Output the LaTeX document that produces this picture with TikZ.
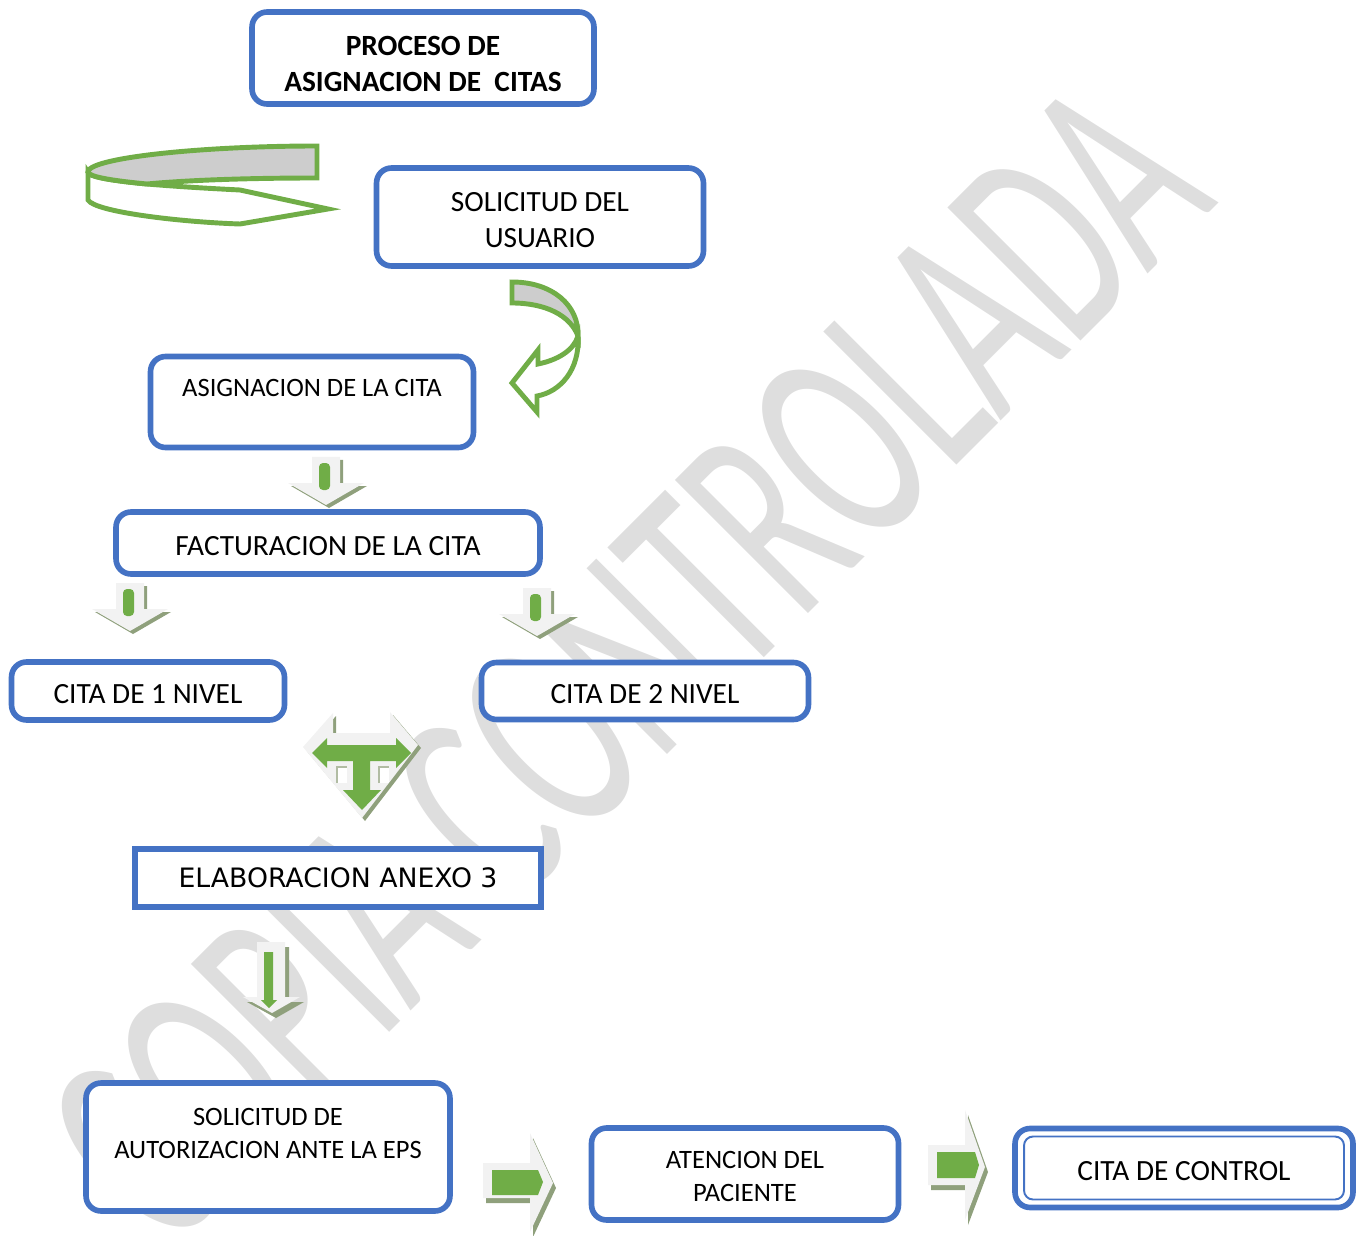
\documentclass[tikz,border=0pt]{standalone}
\usepackage{fontspec}
\setmainfont{Carlito}
\newfontfamily\wideface{DejaVu Sans}
\definecolor{boxblue}{RGB}{68,114,196}
\definecolor{leaf}{RGB}{112,173,71}
\definecolor{pale}{RGB}{242,242,242}
\definecolor{shade}{RGB}{143,160,124}
\definecolor{band}{RGB}{205,205,205}
\definecolor{wmark}{RGB}{222,222,222}
\newcommand{\topstrut}{\rule{0pt}{0.86em}}

\begin{document}
\begin{tikzpicture}[x=0.02cm, y=-0.02cm,
	proc/.style={
		draw=boxblue,
		line width=3.2pt,
		rounded corners=0.3cm,
		fill=white,
		align=center,
		inner sep=0pt,
		outer sep=0pt
	},
	sqbox/.style={proc, rounded corners=0pt},
	big/.style={font=\fontsize{16.7}{20.5}\selectfont},
	small/.style={font=\fontsize{15.1}{18.8}\selectfont},
	paleshape/.style={fill=pale},
	shadeshape/.style={fill=shade},
	greenbar/.style={fill=leaf},
	ribbon/.style={draw=leaf, line width=2.8pt, line join=miter},
	dwn/.pic={
		\fill[shadeshape] (-11,3) -- (17,3) -- (17,29) -- (41,29) -- (3,51) -- (-35,29) -- (-11,29) -- cycle;
		\fill[paleshape] (-14,0) -- (14,0) -- (14,26) -- (38,26) -- (0,48) -- (-38,26) -- (-14,26) -- cycle;
		\fill[greenbar, rounded corners=0.08cm] (-7,6) rectangle (4,33);
	}
	]
	\useasboundingbox (0,0) rectangle (1365,1236);
	
	\node[rotate=45, text=wmark, font=\fontsize{167}{167}\selectfont] (wm) at (627,662)
	{\scalebox{0.6}[1]{COPIA CONTROLADA}};
	
	\node[proc, big, minimum width=6.84cm, minimum height=1.84cm] (title) at (423,58)
	{\rule{0pt}{1.07em}\bfseries PROCESO DE\\\bfseries ASIGNACION DE\ \ CITAS};
	\node[proc, big, minimum width=6.54cm, minimum height=1.96cm] (sol) at (540,217)
	{\topstrut SOLICITUD DEL\\USUARIO};
	\node[proc, small, minimum width=6.46cm, minimum height=1.82cm] (asg) at (312,402)
	{\topstrut ASIGNACION DE LA CITA\\\mbox{}};
	\node[proc, big, minimum width=8.48cm, minimum height=1.24cm] (fac) at (328,543)
	{\topstrut FACTURACION DE LA CITA};
	\node[proc, big, minimum width=5.46cm, minimum height=1.16cm] (niv1) at (148,691)
	{\topstrut CITA DE 1 NIVEL};
	\node[proc, big, minimum width=6.54cm, minimum height=1.14cm] (niv2) at (645,691)
	{\topstrut CITA DE 2 NIVEL};
	\node[sqbox, font=\wideface\fontsize{15.2}{18}\selectfont, minimum width=8.12cm, minimum height=1.16cm] (anx) at (338,878)
	{ELABORACION ANEXO 3};
	\node[proc, small, minimum width=7.28cm, minimum height=2.56cm] (aut) at (268,1147)
	{\topstrut SOLICITUD DE\\AUTORIZACION ANTE LA EPS\\\mbox{}};
	\node[proc, small, minimum width=6.14cm, minimum height=1.84cm] (ate) at (745,1174)
	{\topstrut ATENCION DEL\\PACIENTE};
	\node[proc, big, minimum width=6.76cm, minimum height=1.58cm] (ctl) at (1184,1168)
	{\topstrut CITA DE CONTROL};
	\draw[boxblue, line width=1.1pt, rounded corners=0.18cm]
	([shift={(9,8)}]ctl.north west) rectangle ([shift={(-9,-8)}]ctl.south east);
	
	% ribbon arrow
	\filldraw[ribbon, fill=white] (88,172) -- (88,200) .. controls (95,212) and (180,222) .. (240,224)
	-- (328,209) -- (240,190) .. controls (200,188) and (170,186) .. (147,184)
	.. controls (115,181) and (88,177) .. (88,172) -- cycle;
	\filldraw[ribbon, fill=band] (317,146) -- (317,178) .. controls (250,178) and (190,180) .. (147,184)
	.. controls (115,181) and (88,177) .. (88,172) .. controls (88,158) and (200,146) .. (317,146) -- cycle;
	
	% u-turn arrow
	\filldraw[ribbon, fill=white] (578,336) .. controls (580,370) and (560,392) .. (537,396) -- (537,412)
	-- (512,383) -- (538,350) -- (538,364) .. controls (558,360) and (574,350) .. (578,336) -- cycle;
	\filldraw[ribbon, fill=band] (512,282) .. controls (552,282) and (579,305) .. (578,336)
	.. controls (570,315) and (545,303) .. (512,303) -- cycle;
	
	\pic at (326,457) {dwn};
	\pic at (130,583) {dwn};
	\pic at (537,588) {dwn};
	
	% split arrow
	\fill[shadeshape] (306,750) -- (336,716) -- (336,736) -- (393,736) -- (393,715) -- (421,748) -- (365,821) -- cycle;
	\fill[paleshape] (303,747) -- (333,713) -- (333,733) -- (390,733) -- (390,712) -- (418,745) -- (362,818) -- cycle;
	\fill[greenbar] (312,753) -- (327,738) -- (327,745) -- (396,745) -- (396,738) -- (411,753)
	-- (396,768) -- (396,761) -- (370,761) -- (370,790) -- (381,790) -- (362,810) -- (343,790)
	-- (353,790) -- (353,761) -- (327,761) -- (327,768) -- cycle;
	\fill[white] (337,767) rectangle (347,783);
	\fill[white] (379,767) rectangle (389,783);
	\draw[shade!70, line width=0.9pt] (337,783) -- (337,767) -- (347,767);
	\draw[shade!70, line width=0.9pt] (379,783) -- (379,767) -- (389,767);
	
	% long down arrow
	\fill[shadeshape] (261,947) -- (289,947) -- (289,1002) -- (304,1002) -- (276,1018) -- (247,1002) -- (261,1002) -- cycle;
	\fill[paleshape] (257,942) -- (285,942) -- (285,997) -- (300,997) -- (272,1013) -- (243,997) -- (257,997) -- cycle;
	\fill[greenbar] (264,952) -- (273,952) -- (273,1000) -- (277,1000) -- (269,1008) -- (261,1000) -- (264,1000) -- cycle;
	
	% right arrows
	\fill[shadeshape] (486,1168) -- (533,1168) -- (533,1138) -- (556,1188) -- (533,1237) -- (533,1203) -- (486,1203) -- cycle;
	\fill[paleshape] (483,1163) -- (530,1163) -- (530,1133) -- (553,1183) -- (530,1232) -- (530,1198) -- (483,1198) -- cycle;
	\fill[greenbar] (492,1170) -- (538,1170) -- (543,1182) -- (538,1195) -- (492,1195) -- cycle;
	\fill[shadeshape] (931,1150) -- (968,1150) -- (968,1115) -- (988,1172) -- (968,1225) -- (968,1190) -- (931,1190) -- cycle;
	\fill[paleshape] (928,1145) -- (965,1145) -- (965,1110) -- (985,1167) -- (965,1220) -- (965,1185) -- (928,1185) -- cycle;
	\fill[greenbar] (937,1152) -- (975,1152) -- (979,1165) -- (975,1178) -- (937,1178) -- cycle;
\end{tikzpicture}
\end{document}
